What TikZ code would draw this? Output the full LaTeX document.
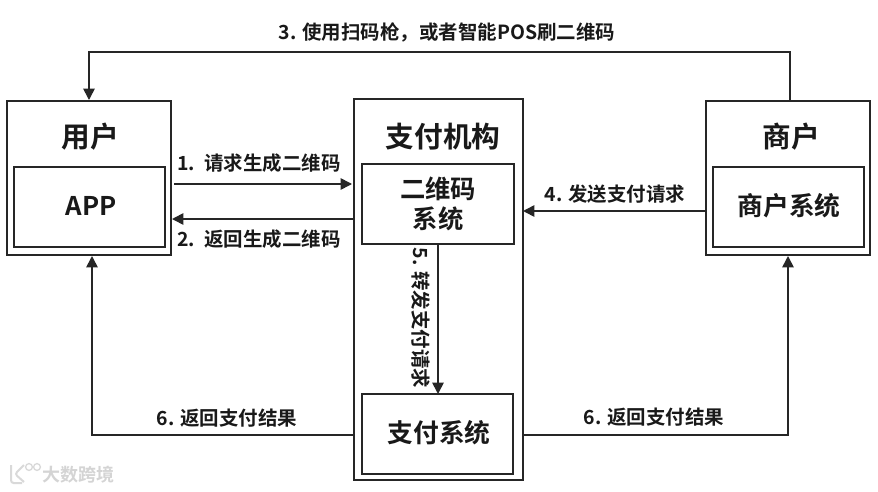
\documentclass[tikz,border=0pt]{standalone}
\usepackage{fontspec}
\setmainfont{Noto Sans CJK SC}[BoldFont={Noto Sans CJK SC Bold}]
\usetikzlibrary{arrows.meta,positioning}
\tikzset{
 box/.style={draw=black!85,line width=1.5pt,fill=white,inner sep=0pt,outer sep=0pt,anchor=north west},
 arr/.style={draw=black!85,line width=1.2pt,-{Triangle[length=8.5pt,width=8.5pt]}},
 title/.style={font=\fontsize{21.5}{24}\selectfont\bfseries,text=black!90,inner sep=0pt,align=center},
 inner/.style={font=\fontsize{19.3}{23}\selectfont\bfseries,text=black!90,inner sep=0pt,align=center},
 lab/.style={font=\fontsize{14.6}{17}\selectfont\bfseries,text=black!90,inner sep=0pt},
 wm/.style={font=\fontsize{13.5}{16}\selectfont\bfseries,text=black!17,inner sep=0pt},
}
\begin{document}
\begin{tikzpicture}[x=0.75pt,y=-0.75pt]
\useasboundingbox (0,0) rectangle (878,492);
\fill[white] (0,0) rectangle (878,492);
% outer boxes
\node[box,minimum width=123pt,minimum height=115.5pt] (user) at (7,101) {};
\node[box,minimum width=126.75pt,minimum height=285.75pt] (org) at (354,99) {};
\node[box,minimum width=123pt,minimum height=115.5pt] (merchant) at (706,101) {};
% inner boxes
\node[box,minimum width=113.25pt,minimum height=60pt] (app) at (14,167) {};
\node[box,minimum width=114pt,minimum height=60pt] (qr) at (362,164) {};
\node[box,minimum width=113.25pt,minimum height=60pt] (pay) at (362,394) {};
\node[box,minimum width=113.25pt,minimum height=60pt] (msys) at (713,167) {};
% box texts
\node[title] (tuser) at (90,137) {用户};
\node[title] (torg) at (443,137) {支付机构};
\node[title] (tmer) at (791,137) {商户};
\node[inner] (tapp) at (91,206) {APP};
\node[inner,font=\fontsize{19}{22.5}\selectfont\bfseries] (tqr) at (438,204) {二维码\\系统};
\node[inner] (tpay) at (439,433) {支付系统};
\node[inner] (tmsys) at (789,206) {商户系统};
% helpers on box edges
\coordinate (c3s) at (790,101);
\coordinate (c3a) at (790,52);
\coordinate (c3b) at (89,52);
\coordinate (c3e) at (89,100);
\coordinate (c1s) at (174,184);
\coordinate (c1e) at (352,184);
\coordinate (c2s) at (354,219);
\coordinate (c2e) at (172,219);
\coordinate (c4s) at (706,211);
\coordinate (c4e) at (523,211);
\coordinate (c5s) at (438,244);
\coordinate (c5e) at (438,394);
\coordinate (c6as) at (354,435);
\coordinate (c6aa) at (92,435);
\coordinate (c6ae) at (92,256);
\coordinate (c6bs) at (523,435);
\coordinate (c6ba) at (788,435);
\coordinate (c6be) at (788,256);
% connectors
\draw[arr] (c3s) -- (c3a) -- (c3b) -- (c3e);
\draw[arr] (c1s) -- (c1e);
\draw[arr] (c2s) -- (c2e);
\draw[arr] (c4s) -- (c4e);
\draw[arr] (c5s) -- (c5e);
\draw[arr] (c6as) -- (c6aa) -- (c6ae);
\draw[arr] (c6bs) -- (c6ba) -- (c6be);
% labels
\node[lab] (l3) at (447,32) {3. 使用扫码枪，或者智能POS刷二维码};
\node[lab,anchor=west] (l1) at (177,163) {1.\, 请求生成二维码};
\node[lab,anchor=west] (l2) at (177,239) {2.\, 返回生成二维码};
\node[lab] (l4) at (615,194) {4. 发送支付请求};
\node[lab,rotate=-90] (l5) at (421,318) {5. 转发支付请求};
\node[lab] (l6a) at (227,418) {6. 返回支付结果};
\node[lab] (l6b) at (654,417) {6. 返回支付结果};
% watermark
\draw[black!15,line width=1.5pt,rounded corners=2pt] (11,465) -- (11,483) -- (22,483) (24,465) -- (15,474) -- (24,482);
\draw[black!15,line width=1pt] (29,467) circle (3.4) (37,467) circle (3.4);
\node[wm,anchor=west] (wm) at (42,475) {大数跨境};
\end{tikzpicture}
\end{document}
